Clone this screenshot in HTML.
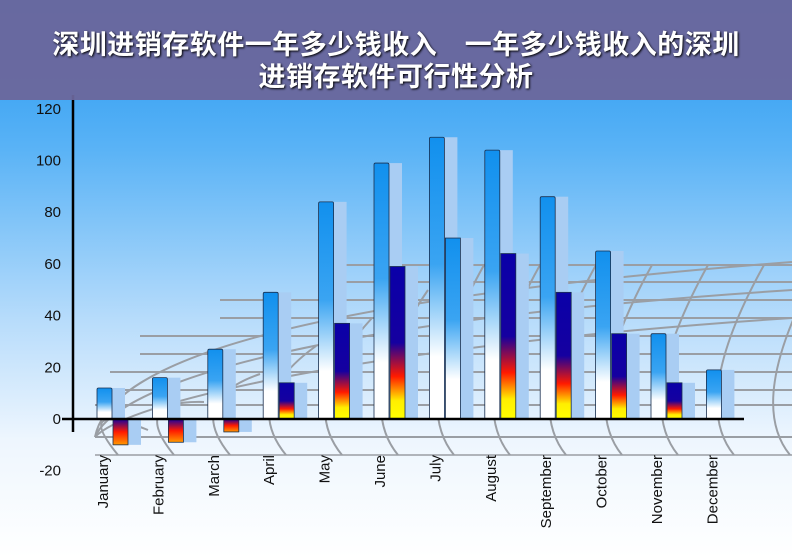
<!DOCTYPE html>
<html><head><meta charset="utf-8"><style>
html,body{margin:0;padding:0;width:792px;height:557px;overflow:hidden}
body{background:linear-gradient(180deg,#1f94f0 0px,#5ab3f6 150px,#b7dcfb 320px,#eef6fe 440px,#ffffff 557px);font-family:"Liberation Sans","Noto Sans CJK SC",sans-serif;position:relative}
#title{position:absolute;left:0;top:0;width:792px;height:100px;background:rgba(108,102,155,0.95);color:#fff;font-weight:bold;font-size:27px;line-height:32px;text-align:center;padding-top:29px;box-sizing:border-box;text-shadow:1px 1px 2px #000;font-family:"Liberation Sans","Noto Sans CJK SC",sans-serif;letter-spacing:0.5px}
svg{position:absolute;left:0;top:0}
</style></head><body>
<svg width="792" height="557">
<defs>
<linearGradient id="gb" x1="0" y1="0" x2="0" y2="1"><stop offset="0" stop-color="#1190ee"/><stop offset="0.45" stop-color="#3aa4f2"/><stop offset="0.78" stop-color="#ffffff"/><stop offset="1" stop-color="#ffffff"/></linearGradient>
<linearGradient id="gd" x1="0" y1="0" x2="0" y2="1"><stop offset="0" stop-color="#0a00a8"/><stop offset="0.5" stop-color="#1500a0"/><stop offset="0.72" stop-color="#ff1a00"/><stop offset="0.88" stop-color="#ffee00"/><stop offset="1" stop-color="#ffff00"/></linearGradient>
<linearGradient id="gn" x1="0" y1="0" x2="0" y2="1"><stop offset="0" stop-color="#1500a0"/><stop offset="0.5" stop-color="#ff1a00"/><stop offset="1" stop-color="#ff9900"/></linearGradient>
</defs>
<g id="grid" stroke="#9a9ea4" stroke-width="2" fill="none"></g>
<g id="bars"></g>
<g id="axes"></g>
</svg>
<div id="title">深圳进销存软件一年多少钱收入　一年多少钱收入的深圳<br>进销存软件可行性分析</div>
<script>
const months=["January","February","March","April","May","June","July","August","September","October","November","December"];
const seriesA=[12,16,27,49,84,99,109,104,86,65,33,19];
const seriesB=[-10,-9,-5,14,37,59,70,64,49,33,14,null];
const yTicks=[-20,0,20,40,60,80,100,120];
const NS="http://www.w3.org/2000/svg";
const y0=419, pxPer=2.585;
const Y=v=>y0-v*pxPer;
const X=i=>97+i*55.4;
function mk(tag,attrs,parent){const e=document.createElementNS(NS,tag);for(const k in attrs)e.setAttribute(k,attrs[k]);parent.appendChild(e);return e;}
const grid=document.getElementById('grid');
const env=[ "M 95 437 C 110 360 300 300 792 262", "M 95 437 C 120 380 330 320 792 290", "M 95 437 C 130 400 380 345 792 318"];
env.forEach(d=>{const p=mk('path',{d:d},grid);});
const hy=[265,282,300,318,336,354,372,390,405,437];
hy.forEach((y,i)=>{
  const xs = y>=405?95:(y>=372?110:(y>=336?140:(y>=300?220:330)));
  const p=mk('line',{x1:xs,y1:y,x2:792,y2:y},grid);
  
  
});
mk('line',{x1:95,y1:455,x2:792,y2:455,"stroke-width":1.5},grid);
for(let i=0;i<13;i++){
  const x=88+i*56;
  const top=Math.max(265, 430 - i*28);
  const a=mk('path',{d:`M ${x+60} ${top} Q ${x-15} 400 ${x+30} 455`},grid);
  
  
}
const bars=document.getElementById('bars');
months.forEach((m,i)=>{
  const x=X(i);
  const a=seriesA[i];
  const sh=mk('rect',{x:x+15,y:Y(a),width:13,height:y0-Y(a),fill:"#a9cdf3"},bars);
  
  
  const r=mk('rect',{x:x,y:Y(a),width:15,height:y0-Y(a),fill:"url(#gb)",stroke:"#1a3050","stroke-width":0.8,rx:1.5},bars);
  
  
  const b=seriesB[i];
  if(b!==null){
    const top=Math.min(Y(b),y0), h=Math.abs(Y(b)-y0);
    const s2=mk('rect',{x:x+31,y:top,width:13,height:h,fill:"#a9cdf3"},bars);
    
    
    const fill=b<0?"url(#gn)":(i===6?"url(#gb)":"url(#gd)");
    const r2=mk('rect',{x:x+16,y:top,width:15,height:h,fill:fill,stroke:"#1a3050","stroke-width":0.8},bars);
    
    
  }
  const t=mk('text',{x:0,y:0,transform:`translate(${x+11},${455}) rotate(-90)`,"text-anchor":"end","font-size":15,fill:"#111","font-family":"Liberation Sans, sans-serif"},bars);
  t.textContent=m;
  
  
});
const ax=document.getElementById('axes');
const ya=mk('line',{x1:73,y1:95,x2:73,y2:432,stroke:"#000","stroke-width":2.5},ax);


const xa=mk('line',{x1:62,y1:y0,x2:744,y2:y0,stroke:"#000","stroke-width":2.5},ax);


yTicks.forEach(v=>{
  const t=mk('text',{x:61,y:Y(v)+5,"text-anchor":"end","font-size":15,fill:"#111","font-family":"Liberation Sans, sans-serif"},ax);
  t.textContent=v;
  
  
});
</script>
</body></html>
